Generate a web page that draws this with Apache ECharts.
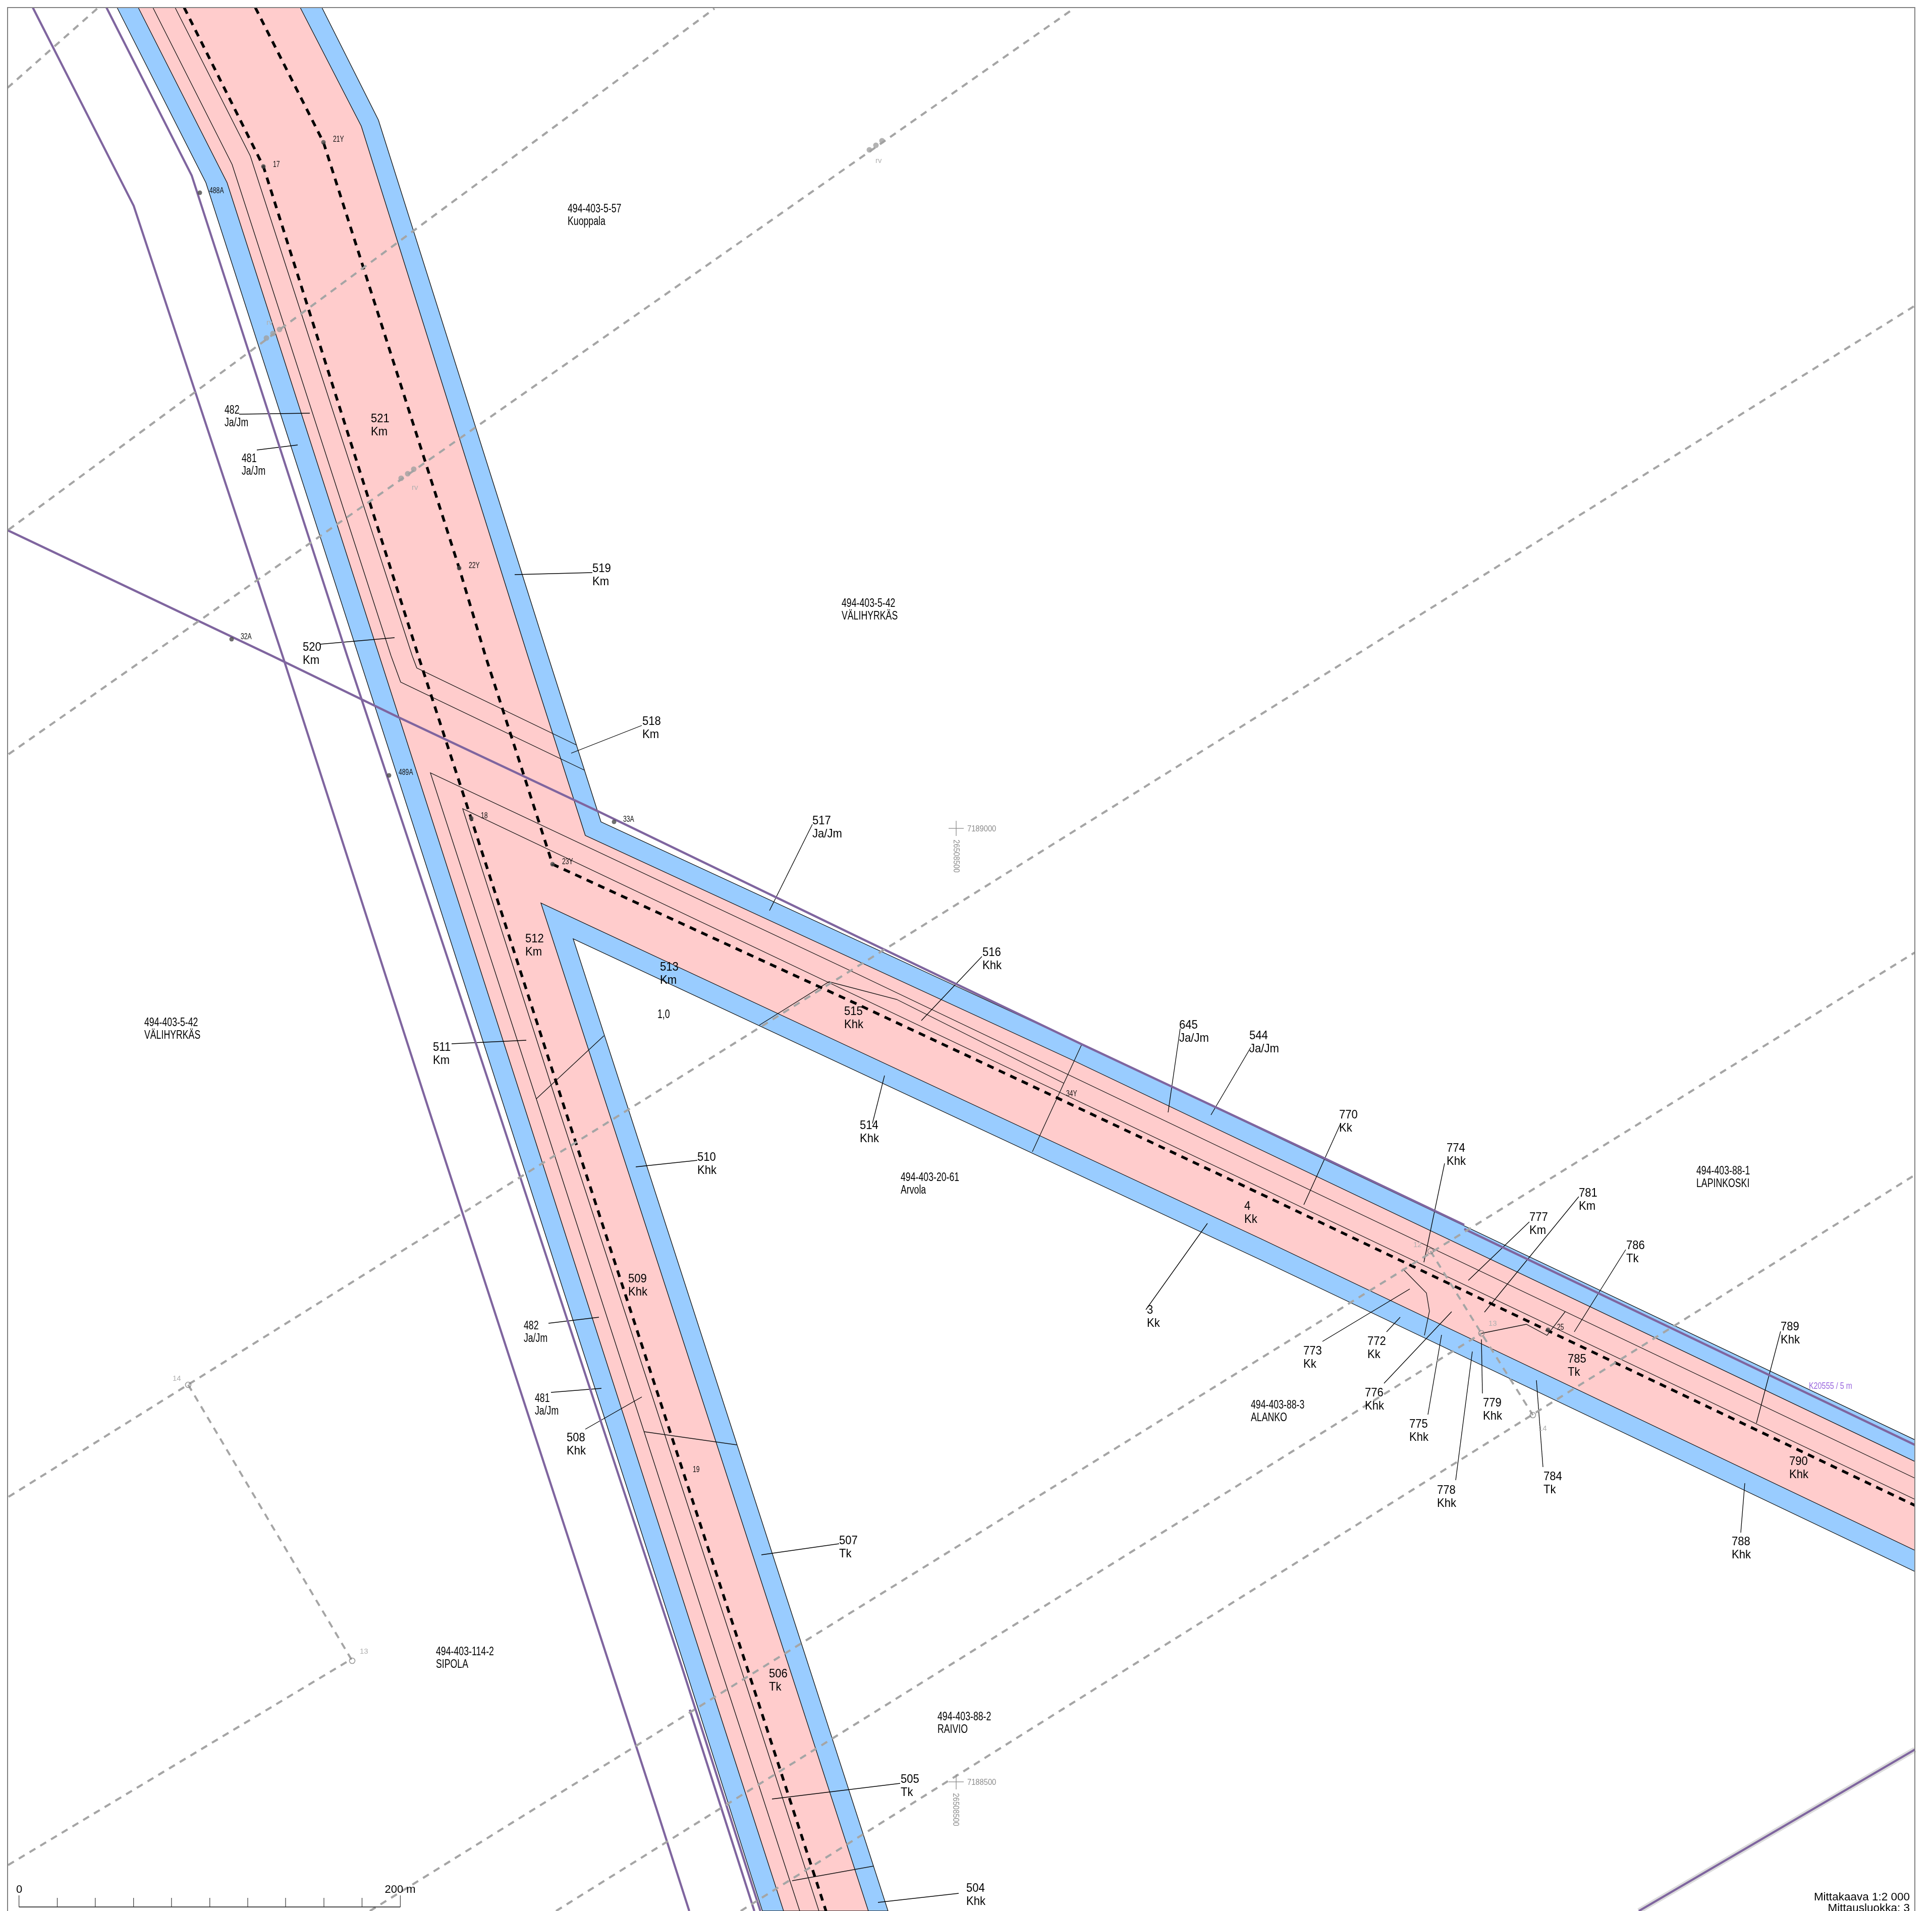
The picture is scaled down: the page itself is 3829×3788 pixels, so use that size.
<!DOCTYPE html>
<html><head><meta charset="utf-8">
<script src="https://cdn.jsdelivr.net/npm/echarts@6/dist/echarts.min.js"></script>
<style>html,body{margin:0;padding:0;background:#fff}#c{width:3829px;height:3788px}</style>
</head><body><div id="c"></div>
<script>
// --- map geometry, in sheet units ---
const stripOuter=[[638,15],[750,238],[1086,1300],[1191,1629],[2144,2070],[3795,2854],[3795,3115],[2500,2498],[1136,1861],[1760,3788],[1511,3788],[1356,3300],[408,362],[232,15]];
const stripInner=[[595,15],[716,250],[1046,1300],[1160,1656],[2129,2103],[3795,2897],[3795,3073],[2500,2456],[1700,2083],[1072,1790],[1721,3788],[1553,3788],[1395,3300],[450,362],[274,15]];
const thinLines=[
 [[303,15],[460,326],[775,1300],[794,1352],[1159,1527]],
 [[347,15],[496,309],[817,1300],[826,1324],[1143,1477]],
 [[3795,2930],[2500,2313],[1700,1931],[853,1532],[1070,2200],[1426,3300],[1585,3788]],
 [[3795,2972],[2500,2355],[1700,1975],[917,1603],[1108,2200],[1466,3300],[1623,3788]],
 [[1505,2032],[1643,1946],[1777,1981],[2108,2147]],
 [[2144,2070],[2046,2283]],
 [[1063,2178],[1197,2053]],
 [[1277,2838],[1460,2864]],
 [[1570,3728],[1731,3699]],
 [[2780,2515],[2827,2563],[2833,2599],[2823,2647]],
 [[3102,2600],[3066,2647],[3025,2625],[2936,2643]]
];
const leaders=[
 [[474,821],[614,819]],[[509,892],[590,882]],[[1020,1139],[1174,1135]],[[634,1277],[782,1264]],
 [[1132,1493],[1272,1438]],[[1525,1805],[1610,1634]],[[895,2069],[1043,2062]],[[1826,2023],[1946,1896]],
 [[1753,2132],[1729,2227]],[[2315,2205],[2339,2039]],[[2400,2210],[2479,2076]],[[2584,2388],[2657,2227]],
 [[2822,2502],[2863,2306]],[[2271,2596],[2393,2425]],[[1260,2313],[1382,2300]],[[1087,2623],[1187,2611]],
 [[1092,2760],[1192,2752]],[[1160,2833],[1272,2769]],[[1509,3082],[1663,3060]],[[1530,3566],[1784,3535]],
 [[1740,3771],[1900,3753]],[[2942,2601],[3129,2372]],[[2910,2538],[3031,2422]],[[3120,2640],[3222,2477]],
 [[3481,2821],[3529,2639]],[[3458,2940],[3450,3038]],[[3045,2736],[3058,2908]],[[2918,2679],[2885,2934]],
 [[2936,2655],[2938,2762]],[[2857,2646],[2830,2804]],[[2877,2600],[2743,2742]],[[2775,2611],[2748,2640]],
 [[2794,2555],[2621,2659]]
];
const boundaryLines=[
 [[65,15],[265,408],[560,1300],[850,2200],[1300,3582],[1366,3788]],
 [[211,15],[380,348],[688,1300],[987,2200],[1350,3300],[1507,3788]],
 [[1367,3389],[1495,3788]],
 [[15,1051],[539,1300],[786,1420],[1185,1608],[1700,1857],[2144,2070],[2627,2297],[2902,2428]],
 [[2902,2436],[3795,2864]]
];
const powerLine=[[3248,3788],[3795,3468]];
const grayDashed=[
 [[15,174],[195,15]],
 [[17,1050],[1416,17]],
 [[17,1495],[2128,17]],
 [[17,2967],[3795,606]],
 [[16,3697],[696,3289]],
 [[733,3788],[3795,1888]],
 [[1102,3788],[2936,2643]],
 [[1468,3788],[3795,2329]]
];
const grayLinks=[
 [[373,2745],[698,3292]],
 [[2835,2480],[2936,2643],[3038,2805]]
];
const centreDashed=[
 [[365,15],[522,330],[829,1300],[934,1623],[1120,2200],[1481,3307],[1637,3788]],
 [[506,15],[641,282],[910,1126],[962,1300],[1095,1713],[1700,1991],[2029,2145],[2510,2372],[3795,2984]]
];
const blackDots=[[396,382],[641,282],[522,330],[910,1126],[459,1267],[771,1537],[1217,1629],[934,1622],[1095,1713],[3068,2636]];
const grayDots=[[528,670],[541,661],[554,653],[795,948],[808,939],[820,930],[1723,297],[1736,288],[1748,279]];
const grayRings=[[2835,2480],[2936,2643],[3038,2805],[373,2745],[698,3292]];
const gridCrossCentres=[[1895,1642],[1895,3532]];
const frameSides=[[15,3788],[15,15],[3795,15],[3795,3788]];
const scaleTicks=[37.6,113.5,188.8,264.7,339.9,415.8,491,566,642,717.5,793.4];

// --- texts ---
const figureLabels=[
 ["521\nKm",735,843],["519\nKm",1174,1140],["520\nKm",600,1296],["518\nKm",1273,1443],["517\nJa/Jm",1610,1640],
 ["512\nKm",1041,1874],["513\nKm",1308,1930],["511\nKm",858,2089],["516\nKhk",1947,1901],["515\nKhk",1673,2018],
 ["514\nKhk",1704,2244],["645\nJa/Jm",2337,2045],["544\nJa/Jm",2476,2066],["770\nKk",2654,2223],["774\nKhk",2867,2289],
 ["4\nKk",2466,2404],["3\nKk",2273,2610],["510\nKhk",1382,2307],["509\nKhk",1245,2548],["508\nKhk",1123,2863],
 ["507\nTk",1663,3067],["506\nTk",1524,3331],["505\nTk",1785,3540],["504\nKhk",1915,3756],["781\nKm",3129,2378],
 ["777\nKm",3031,2426],["786\nTk",3223,2482],["789\nKhk",3529,2643],["785\nTk",3107,2707],["790\nKhk",3546,2910],
 ["788\nKhk",3432,3069],["784\nTk",3059,2940],["778\nKhk",2848,2967],["779\nKhk",2939,2794],["775\nKhk",2793,2836],
 ["776\nKhk",2705,2774],["772\nKk",2710,2672],["773\nKk",2583,2691]
];
const parcelLabels=[
 ["494-403-5-57\nKuoppala",1125,427],["494-403-5-42\nVÄLIHYRKÄS",1668,1209],["494-403-5-42\nVÄLIHYRKÄS",286,2040],
 ["494-403-20-61\nArvola",1785,2347],["494-403-88-1\nLAPINKOSKI",3362,2334],["494-403-88-3\nALANKO",2479,2798],
 ["494-403-114-2\nSIPOLA",864,3287],["494-403-88-2\nRAIVIO",1858,3416],["482\nJa/Jm",445,826],["481\nJa/Jm",479,922],
 ["482\nJa/Jm",1038,2641],["481\nJa/Jm",1060,2785],["1,0",1303,2012]
];
const pointLabels=[
 ["488A",415,378],["21Y",660,276],["17",541,326],["22Y",929,1121],["32A",477,1262],["489A",790,1531],["33A",1235,1624],
 ["18",953,1617],["23Y",1114,1708],["34Y",2113,2168],["25",3086,2631],["19",1373,2913]
];
const grayLabels=[["rv",528,640],["rv",816,967],["rv",1735,319],["12",2801,2468],["13",2950,2624],["14",3049,2832],["14",342,2733],["13",713,3274]];
const coordLabels=[["7189000",1917,1644],["7188500",1917,3534]];
const coordLabelsRotated=[["26508500",1894,1697],["26508500",1893,3587]];
const scaleLabels=[["0",38,3746,"center"],["200 m",793,3746,"center"]];
const sheetNotes=["Mittakaava 1:2 000","Mittausluokka: 3"];
const sheetNotePlace=[[3785,3761],[3785,3783]];
const easementLabel=[["K20555 / 5 m",3585,2748]];

// --- helpers that turn the lists into series ---
const SANS='"Liberation Sans",Arial,sans-serif';
function polySeries(points,fill,z){
 return {type:'custom',coordinateSystem:'cartesian2d',silent:true,animation:false,clip:false,z:z,data:points,
  renderItem:function(p,api){
   if(p.dataIndex!==points.length-1)return null;
   return {type:'polygon',shape:{points:points.map(function(q){return api.coord(q);})},
     style:{fill:fill,stroke:'#111',lineWidth:1.3}};
  }};
}
function lineSeries(points,color,width,dash,z){
 return {type:'line',data:points,showSymbol:false,symbol:'none',silent:true,animation:false,clip:false,z:z,
  lineStyle:{color:color,width:width,type:dash||'solid',cap:'butt',join:'miter'}};
}
function dotSeries(points,size,itemStyle,z){
 return {type:'scatter',data:points,symbol:'circle',symbolSize:size,silent:true,animation:false,z:z,itemStyle:itemStyle};
}
function textSeries(rows,o,z){
 return {type:'custom',coordinateSystem:'cartesian2d',silent:true,animation:false,clip:false,z:z,
  data:rows.map(function(r){return [r[1],r[2]];}),
  renderItem:function(p,api){
   const c=api.coord([api.value(0),api.value(1)]);
   const r=rows[p.dataIndex];
   return {type:'text',x:c[0],y:c[1],rotation:o.rotation||0,scaleX:o.squeeze||1,scaleY:1,
    style:{text:r[0],x:0,y:0,fill:o.color,fontSize:o.size,fontFamily:SANS,lineHeight:o.line||o.size,
     align:r[3]||o.align||'left',verticalAlign:'middle'}};
  }};
}
const series=[];
series.push(lineSeries(powerLine,'#dcdcdc',11,null,1));
series.push(polySeries(stripOuter,'#99CCFF',2));
series.push(polySeries(stripInner,'#FFCCCC',3));
thinLines.forEach(function(l){series.push(lineSeries(l,'#111',1.3,null,4));});
leaders.forEach(function(l){series.push(lineSeries(l,'#000',1.3,null,4));});
boundaryLines.forEach(function(l){series.push(lineSeries(l,'#7f659f',4.2,null,5));});
series.push(lineSeries(powerLine,'#7f659f',4.2,null,5));
centreDashed.forEach(function(l){series.push(lineSeries(l,'#000000',5.4,[13.5,11.5],6));});
grayDashed.forEach(function(l){series.push(lineSeries(l,'#a5a5a5',4.2,[13.5,11.3],7));});
grayLinks.forEach(function(l){series.push(lineSeries(l,'#a5a5a5',4,[13.5,11.3],7));});
series.push(dotSeries(blackDots,9,{color:'#4a4a4a'},8));
series.push(dotSeries(grayDots,11,{color:'#a0a0a0'},8));
series.push(dotSeries(grayRings,11,{color:'rgba(0,0,0,0)',borderColor:'#808080',borderWidth:1.6},8));
gridCrossCentres.forEach(function(c){
 series.push(lineSeries([[c[0]-15,c[1]],[c[0]+15,c[1]]],'#8c8c8c',1.3,null,8));
 series.push(lineSeries([[c[0],c[1]-15],[c[0],c[1]+15]],'#8c8c8c',1.3,null,8));
});
series.push(lineSeries(frameSides,'#808080',2,null,9));
series.push(lineSeries([[scaleTicks[0],3780],[scaleTicks[scaleTicks.length-1],3780]],'#111',1.4,null,9));
scaleTicks.forEach(function(t,i){
 const end=(i===0||i===scaleTicks.length-1)?3757:3762;
 series.push(lineSeries([[t,end],[t,3780]],'#333',1.2,null,9));
});
series.push(textSeries(figureLabels,{color:'#000',size:24,squeeze:0.92,line:26},10));
series.push(textSeries(parcelLabels,{color:'#000',size:23,squeeze:0.77,line:25},10));
series.push(textSeries(pointLabels,{color:'#111',size:17,squeeze:0.72},10));
series.push(textSeries(grayLabels,{color:'#b0b0b0',size:15},10));
series.push(textSeries(coordLabels,{color:'#8c8c8c',size:16,squeeze:0.92},10));
series.push(textSeries(coordLabelsRotated,{color:'#8c8c8c',size:16,squeeze:0.92,align:'center',rotation:-Math.PI/2},10));
series.push(textSeries(scaleLabels,{color:'#000',size:22},10));
series.push(textSeries(sheetNotes.map(function(t,i){return [t,sheetNotePlace[i][0],sheetNotePlace[i][1]];}),{color:'#000',size:22.5,align:'right'},10));
series.push(textSeries(easementLabel,{color:'#9966dd',size:18,squeeze:0.8},10));

const chart=echarts.init(document.getElementById('c'),null,{width:3829,height:3788});
chart.setOption({
 animation:false,backgroundColor:'#fff',
 grid:{left:0,right:0,top:0,bottom:0,containLabel:false},
 xAxis:{type:'value',min:0,max:3829,show:false},
 yAxis:{type:'value',min:0,max:3788,inverse:true,show:false},
 tooltip:{show:false},legend:{show:false},
 series:series
});
</script></body></html>
